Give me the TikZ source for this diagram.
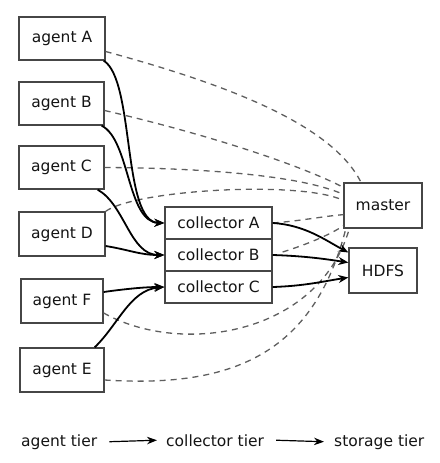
\documentclass[tikz,border=0pt]{standalone}
\usepackage{fontspec}
\setmainfont{DejaVu Sans}
\usetikzlibrary{arrows.meta}
\definecolor{boxline}{RGB}{70,70,70}
\definecolor{dashc}{RGB}{95,95,95}
\definecolor{txt}{RGB}{20,20,20}
\begin{document}
\begin{tikzpicture}[x=1pt,y=-1pt,
  box/.style={draw=boxline,line width=1.3pt,fill=white,inner sep=0pt,text=txt,font=\fontsize{15.5}{18}\selectfont},
  flow/.style={line width=1.8pt,-{Stealth[length=10pt,width=8pt]}},
  ctrl/.style={dashc,line width=1.3pt,dash pattern=on 6pt off 5pt},
  leg/.style={text=txt,font=\fontsize{15.5}{18}\selectfont,inner sep=0pt},
  legarrow/.style={line width=1.2pt,-{Stealth[length=10pt,width=7.5pt]}}]
\useasboundingbox (0,0) rectangle (439,463);
% nodes
\node[box,minimum width=86pt,minimum height=43pt] (agA) at (62,38.5) {agent A};
\node[box,minimum width=85pt,minimum height=43pt] (agB) at (61.5,103.5) {agent B};
\node[box,minimum width=85pt,minimum height=43pt] (agC) at (61.5,167.5) {agent C};
\node[box,minimum width=86pt,minimum height=44pt] (agD) at (62,234) {agent D};
\node[box,minimum width=82pt,minimum height=44pt] (agF) at (62,301) {agent F};
\node[box,minimum width=84pt,minimum height=44pt] (agE) at (62,370) {agent E};
\node[box,minimum width=78pt,minimum height=45pt] (master) at (383,205.5) {master};
\node[box,minimum width=68pt,minimum height=45pt] (hdfs) at (383,270.5) {HDFS};
% dashed control lines
\draw[ctrl] ([yshift=-13pt]agA.east) .. controls (210,80) and (330,120) .. ([xshift=-22pt]master.north);
\draw[ctrl] ([yshift=-7pt]agB.east) .. controls (210,135) and (300,165) .. ([yshift=-5pt]master.north west);
\draw[ctrl] (agC.east) .. controls (200,168) and (300,175) .. ([yshift=-12pt]master.north west);
\draw[ctrl] (agD.north east) .. controls (135,190) and (300,180) .. ([yshift=-18pt]master.north west);
\draw[ctrl] ([yshift=-12pt]agF.east) .. controls (180,356) and (318,336) .. ([xshift=6pt]master.south west);
\draw[ctrl] ([yshift=-10pt]agE.east) .. controls (230,388) and (314,356) .. ([xshift=3pt,yshift=2pt]master.south west);
% collectors
\node[box,minimum width=107pt,minimum height=32pt] (colA) at (218.5,223) {collector A};
\node[box,minimum width=107pt,minimum height=32pt] (colB) at (218.5,255) {collector B};
\node[box,minimum width=107pt,minimum height=32pt] (colC) at (218.5,287) {collector C};
\draw[ctrl] (colA.east) .. controls (300,221) and (325,216) .. ([yshift=14pt]master.south west);
\draw[ctrl] ([xshift=10pt,yshift=3pt]colB.east) .. controls (305,245) and (330,235) .. ([yshift=3pt]master.south west);
% data flow
\draw[flow] ([xshift=-2pt]agA.south east) .. controls (135,80) and (122,222) .. (colA.west);
\draw[flow] ([xshift=-3pt]agB.south east) .. controls (130,140) and (127,222) .. (colA.west);
\draw[flow] ([xshift=-7pt]agC.south east) .. controls (125,205) and (130,255) .. (colB.west);
\draw[flow] ([yshift=-12pt]agD.east) .. controls (130,250) and (140,255) .. (colB.west);
\draw[flow] ([yshift=9pt]agF.east) .. controls (125,289) and (145,287) .. (colC.west);
\draw[flow] ([xshift=-10pt]agE.north east) .. controls (118,325) and (130,290) .. (colC.west);
\draw[flow] (colA.east) .. controls (305,225) and (325,240) .. ([yshift=18pt]hdfs.west);
\draw[flow] (colB.east) .. controls (305,256) and (325,259) .. ([yshift=8pt]hdfs.west);
\draw[flow] (colC.east) .. controls (305,286) and (325,281) .. ([yshift=-7pt]hdfs.west);
% legend
\node[leg,anchor=base west] (l1) at (21,446) {agent tier};
\node[leg,anchor=base west] (l2) at (166,446) {collector tier};
\node[leg,anchor=base west] (l3) at (334,446) {storage tier};
\draw[legarrow] ([xshift=12pt]l1.east) -- ([xshift=-9pt]l2.west);
\draw[legarrow] ([xshift=12pt]l2.east) -- ([xshift=-10pt]l3.west);
\end{tikzpicture}
\end{document}
